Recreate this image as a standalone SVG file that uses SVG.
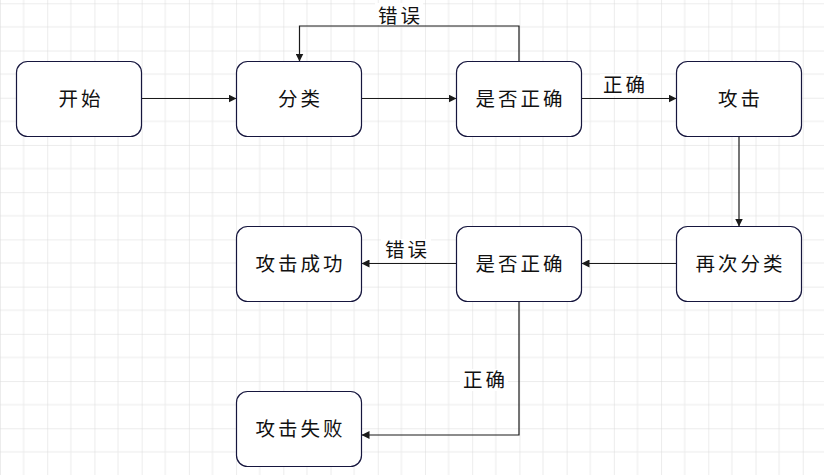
<svg xmlns="http://www.w3.org/2000/svg" width="824" height="475" viewBox="0 0 824 475">
<defs>
  <pattern id="grid" patternUnits="userSpaceOnUse" x="0" y="3.3" width="47.22" height="47.22">
    <rect width="47.22" height="47.22" fill="#ffffff"/>
    <path d="M23.61,0 V47.22 M0,23.61 H47.22" stroke="#ececec" stroke-width="1" fill="none"/>
    <path d="M0,0 V47.22 M0,0 H47.22" stroke="#dadada" stroke-width="1" fill="none"/>
  </pattern>
  <marker id="arr" viewBox="0 0 8 8" refX="8" refY="4" markerWidth="8" markerHeight="8" orient="auto" markerUnits="userSpaceOnUse">
    <path d="M0,0 L8,4 L0,8 Z" fill="#1a1a1a"/>
  </marker>
  <style>
    .box { fill: #ffffff; stroke: #16163e; stroke-width: 1.2; }
    .t { font-family: "Noto Sans CJK SC", "Noto Sans CJK JP", sans-serif; font-size: 19.5px; fill: #111111; text-anchor: middle; dominant-baseline: central; letter-spacing: 3px; }
    .e { fill: none; stroke: #1a1a1a; stroke-width: 1.2; marker-end: url(#arr); }
    .lbg { fill: #ffffff; }
  </style>
</defs>
<rect x="0" y="0" width="824" height="475" fill="url(#grid)"/>

<g id="connectors">
  <path class="e" d="M141.5,98.5 H236.5"/>
  <path class="e" d="M361.5,98.5 H456.5"/>
  <path class="e" d="M519,61.5 V26 H299.5 V61.5"/>
  <path class="e" d="M581.5,98.5 H676.5"/>
  <path class="e" d="M739,136.5 V226.5"/>
  <path class="e" d="M676.5,263.5 H581.5"/>
  <path class="e" d="M456.5,263.5 H361.5"/>
  <path class="e" d="M519,301.5 V435 H361.5"/>
  <g id="edge-labels">
    <rect class="lbg" x="375" y="3" width="48" height="22"/>
    <text class="t" x="400.5" y="14">错误</text>
    <rect class="lbg" x="600" y="74" width="48" height="22"/>
    <text class="t" x="625.5" y="83">正确</text>
    <rect class="lbg" x="381" y="239" width="50" height="22"/>
    <text class="t" x="407.5" y="248">错误</text>
    <rect class="lbg" x="460" y="369" width="48" height="22"/>
    <text class="t" x="485.5" y="378">正确</text>
  </g>
</g>

<g id="n-start"><rect class="box" x="16.5" y="61.5" width="125" height="75" rx="11"/><text class="t" x="81" y="97">开始</text></g>
<g id="n-classify"><rect class="box" x="236.5" y="61.5" width="125" height="75" rx="11"/><text class="t" x="300.5" y="97">分类</text></g>
<g id="n-check1"><rect class="box" x="456.5" y="61.5" width="125" height="75" rx="11"/><text class="t" x="520.5" y="97">是否正确</text></g>
<g id="n-attack"><rect class="box" x="676.5" y="61.5" width="125" height="75" rx="11"/><text class="t" x="740.5" y="97">攻击</text></g>
<g id="n-reclassify"><rect class="box" x="676.5" y="226.5" width="125" height="75" rx="11"/><text class="t" x="740.5" y="262">再次分类</text></g>
<g id="n-check2"><rect class="box" x="456.5" y="226.5" width="125" height="75" rx="11"/><text class="t" x="520.5" y="262">是否正确</text></g>
<g id="n-success"><rect class="box" x="236.5" y="226.5" width="125" height="75" rx="11"/><text class="t" x="300.5" y="262">攻击成功</text></g>
<g id="n-fail"><rect class="box" x="236.5" y="391.5" width="125" height="75" rx="11"/><text class="t" x="300.5" y="427">攻击失败</text></g>
</svg>
